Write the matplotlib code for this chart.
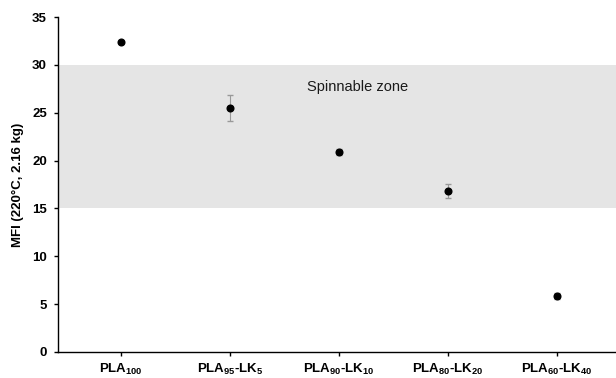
import matplotlib
matplotlib.use("Agg")
import matplotlib.pyplot as plt

plt.rcParams["font.family"] = ["Liberation Sans", "DejaVu Sans"]
plt.rcParams["mathtext.fontset"] = "custom"
plt.rcParams["mathtext.rm"] = "Liberation Sans:bold"
plt.rcParams["mathtext.it"] = "Liberation Sans:bold"
plt.rcParams["mathtext.bf"] = "Liberation Sans:bold"

# Melt flow index of PLA / lignin blends
samples = [r"PLA$_{100}$", r"PLA$_{95}$-LK$_{5}$", r"PLA$_{90}$-LK$_{10}$",
           r"PLA$_{80}$-LK$_{20}$", r"PLA$_{60}$-LK$_{40}$"]
mfi = [32.4, 25.5, 20.9, 16.8, 5.85]
mfi_err = [0.0, 1.4, 0.3, 0.7, 0.3]

# processing window for spinning
zone_low, zone_high = 15, 30

fig = plt.figure(figsize=(6.16, 3.78), dpi=100)
ax = fig.add_axes([0.094, 0.069, 0.906, 0.886])

x = list(range(1, len(samples) + 1))

ax.axhspan(zone_low, zone_high, color="#e5e5e5", lw=0, zorder=0)
ax.text(3.17, 27.7, "Spinnable zone", fontsize=10.5, color="#1a1a1a",
        ha="center", va="center")

ax.errorbar(x, mfi, yerr=mfi_err, fmt="o", color="black", ms=4.8,
            ecolor="#999999", elinewidth=0.8, capsize=2.5, capthick=1.0,
            zorder=3)

ax.set_xlim(0.42, 5.54)
ax.set_ylim(0, 35)
ax.set_yticks(range(0, 36, 5))
ax.set_xticks(x)
ax.set_xticklabels(samples)

ax.spines["top"].set_visible(False)
ax.spines["right"].set_visible(False)
for s in ("left", "bottom"):
    ax.spines[s].set_linewidth(1.0)

ax.tick_params(axis="y", direction="out", length=3, width=1, pad=5,
               labelsize=9.5)
ax.tick_params(axis="x", direction="out", length=3, width=1, pad=4.5,
               labelsize=9.5)
for lab in ax.get_yticklabels() + ax.get_xticklabels():
    lab.set_fontweight("bold")

ax.set_ylabel("MFI (220°C, 2.16 kg)", fontsize=9.5, fontweight="bold",
              labelpad=6)

fig.savefig("out.png", dpi=100)
